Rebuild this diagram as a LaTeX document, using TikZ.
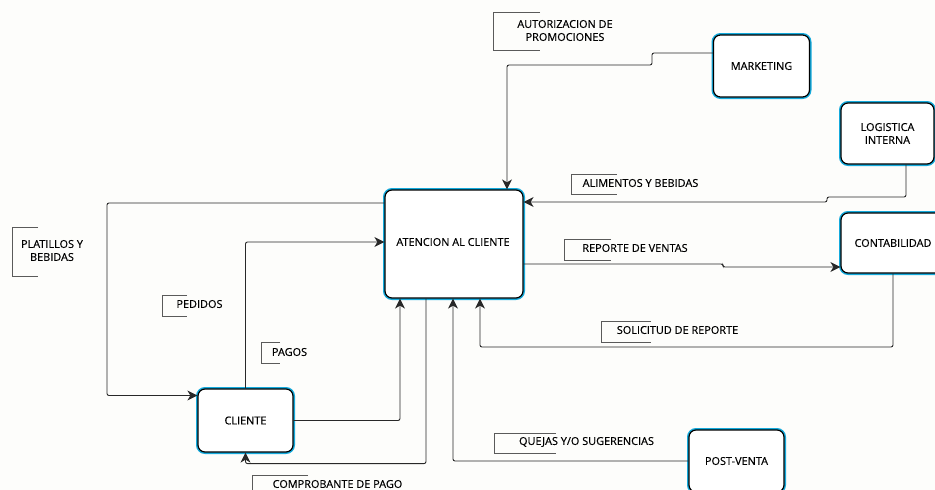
\documentclass[tikz,border=0pt]{standalone}
\usepackage{fontspec}
\setmainfont{Open Sans}[FakeBold=0.4]
\usetikzlibrary{arrows.meta}
\definecolor{edgeblue}{RGB}{20,170,220}
\definecolor{flowgray}{RGB}{40,40,40}
\definecolor{brkgray}{RGB}{90,90,90}
\definecolor{paper}{RGB}{253,253,251}
\begin{document}
\begin{tikzpicture}[x=1pt,y=-1pt,
  proc/.style={rectangle, rounded corners=7pt, fill=white, draw=black, line width=1.2pt,
    preaction={draw=edgeblue, line width=4pt}, align=center, inner sep=0pt,
    font=\fontsize{10.9}{13}\selectfont},
  flow/.style={draw=flowgray, line width=0.9pt, rounded corners=2pt,
    -{Stealth[length=10pt,width=10pt,inset=3pt]}},
  lbl/.style={inner sep=0pt, align=center, font=\fontsize{10.9}{13}\selectfont},
  brk/.style={draw=brkgray, line width=0.7pt}
]
\clip (0,0) rectangle (935,490);
\fill[paper] (0,0) rectangle (935,490);

% processes and external entities
\node[proc, minimum width=96pt, minimum height=62pt] (mk) at (761.5,66) {MARKETING};
\node[proc, minimum width=93pt, minimum height=61pt] (lg) at (887.5,133.5) {LOGISTICA\\INTERNA};
\node[proc, minimum width=104pt, minimum height=60pt] (cb) at (893,243) {CONTABILIDAD};
\node[proc, minimum width=138pt, minimum height=108pt] (at) at (454,244) {};
\node[lbl] (attxt) at (453,242) {ATENCION AL CLIENTE};
\node[proc, minimum width=95pt, minimum height=63pt] (cl) at (245.5,420.5) {CLIENTE};
\node[proc, minimum width=95pt, minimum height=62pt] (pv) at (736.5,461) {POST-VENTA};

% data flows
\draw[flow] ([yshift=13pt]mk.west) -| (652,65) -| ([xshift=53pt]at.north);
\draw[flow] ([xshift=18.5pt]lg.south) |- (827,197) |- ([yshift=42pt]at.east);
\draw[flow] ([yshift=-20pt]at.east) -| (723,267) |- ([yshift=-24pt]cb.west);
\draw[flow] (cb.south) |- (480,347) -- ([xshift=26pt]at.south);
\draw[flow] (pv.west) -| ([xshift=-1pt]at.south);
\draw[flow] ([xshift=-28pt]at.south) |- ([yshift=-11pt]cl.south) -- (cl.south);
\draw[flow] (cl.east) -| ([xshift=-54pt]at.south);
\draw[flow] (cl.north) |- ([yshift=2pt]at.west);
\draw[flow] ([yshift=41pt]at.west) -| (107,300) |- ([yshift=25pt]cl.west);

% flow labels with open brackets
\node[lbl] (l1) at (565,30.5) {AUTORIZACION DE\\PROMOCIONES};
\draw[brk] (540,12) -- (493,12) -- (493,50) -- (540,50);
\node[lbl] (l2) at (640.5,183) {ALIMENTOS Y BEBIDAS};
\draw[brk] (617,174) -- (571,174) -- (571,194) -- (617,194);
\node[lbl] (l3) at (635,248) {REPORTE DE VENTAS};
\draw[brk] (611,239) -- (564,239) -- (564,260) -- (611,260);
\node[lbl] (l4) at (677.5,330) {SOLICITUD DE REPORTE};
\draw[brk] (651,321) -- (601,321) -- (601,342) -- (651,342);
\node[lbl] (l5) at (52,250.5) {PLATILLOS Y\\BEBIDAS};
\draw[brk] (38,227) -- (12,227) -- (12,276) -- (38,276);
\node[lbl] (l6) at (199.5,304) {PEDIDOS};
\draw[brk] (187,295) -- (162,295) -- (162,316) -- (187,316);
\node[lbl] (l7) at (289.5,352) {PAGOS};
\draw[brk] (280,342) -- (261,342) -- (261,363) -- (280,363);
\node[lbl] (l8) at (337.5,484) {COMPROBANTE DE PAGO};
\draw[brk] (308,475) -- (252,475) -- (252,495);
\node[lbl] (l9) at (586.5,442) {QUEJAS Y/O SUGERENCIAS};
\draw[brk] (556,433) -- (494,433) -- (494,453) -- (556,453);
\end{tikzpicture}
\end{document}
